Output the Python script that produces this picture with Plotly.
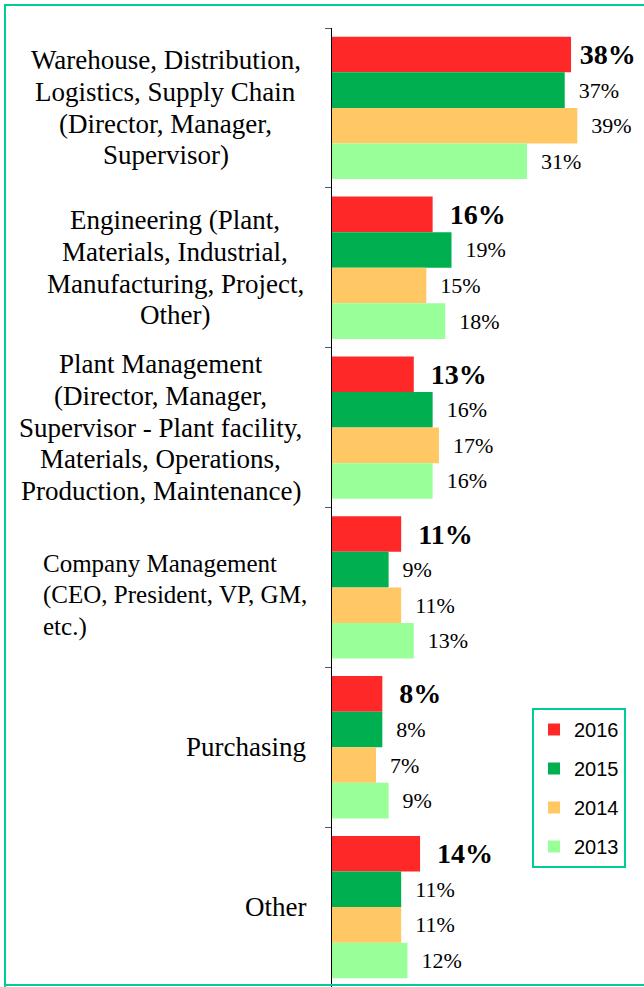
import plotly.graph_objects as go

cat_keys = ["Warehouse", "Engineering", "Plant", "Company", "Purchasing", "Other"]
category_lines = [
    ["Warehouse, Distribution,", "Logistics, Supply Chain", "(Director, Manager,", "Supervisor)"],
    ["Engineering (Plant,", "Materials, Industrial,", "Manufacturing, Project,", "Other)"],
    ["Plant Management", "(Director, Manager,", "Supervisor - Plant facility,", "Materials, Operations,", "Production, Maintenance)"],
    ["Company Management", "(CEO, President, VP, GM,", "etc.)"],
    ["Purchasing"],
    ["Other"],
]
# label block placement (pixels): anchor x and anchor side, vertical offset of block
label_anchor_x = [165.5, 175, 160.5, 41, 308, 308]
label_anchor = ["center", "center", "center", "left", "right", "right"]
label_block_shift = [0, 0, 0, -8, 0, 0]
label_font_size = [27, 27, 27, 25, 27, 27]
LINE_GAP = 31.7

years = ["2016", "2015", "2014", "2013"]
values_2016 = [38, 16, 13, 11, 8, 14]
values_2015 = [37, 19, 16, 9, 8, 11]
values_2014 = [39, 15, 17, 11, 7, 11]
values_2013 = [31, 18, 16, 13, 9, 12]
series = [values_2016, values_2015, values_2014, values_2013]
colors = ["#FF2828", "#00B050", "#FFC864", "#99FF99"]

SERIF = "Liberation Serif"
SANS = "Liberation Sans"
BORDER = "#00CC99"

PLOT_L, PLOT_W, PLOT_T, PLOT_H = 332, 312, 28, 959


def px_x(x):
    return (x - PLOT_L) / PLOT_W


def px_y(y):
    return 1 - (y - PLOT_T) / PLOT_H


fig = go.Figure()
for i, (yr, vals, col) in enumerate(zip(years, series, colors)):
    bold = i == 0
    if bold:
        tmpl = ["\u2009%{x}%" if v == max(vals) else "\u00a0\u00a0%{x}%" for v in vals]
    else:
        tmpl = "\u00a0\u00a0%{x}%"
    fig.add_trace(go.Bar(
        name=yr,
        y=cat_keys,
        x=vals,
        orientation="h",
        marker=dict(color=col, line=dict(width=0)),
        texttemplate=tmpl,
        textposition="outside",
        constraintext="none",
        cliponaxis=False,
        textfont=dict(family=SERIF, size=28 if bold else 22, color="black",
                      weight="bold" if bold else "normal"),
        legendgroup=yr,
        hoverinfo="skip",
    ))

annotations = []
for key, lines, ax, anc, bs, fs in zip(cat_keys, category_lines, label_anchor_x,
                                       label_anchor, label_block_shift, label_font_size):
    n = len(lines)
    for j, line in enumerate(lines):
        annotations.append(dict(
            xref="paper", yref="y", x=px_x(ax), y=key,
            xanchor=anc, yanchor="middle",
            yshift=((n - 1) / 2 - j) * LINE_GAP + bs,
            text=line, showarrow=False,
            font=dict(family=SERIF, size=fs, color="black"),
        ))

# top border drawn as an empty annotation box with a coloured background
annotations.append(dict(
    xref="paper", yref="paper", x=px_x(4), y=px_y(4),
    xanchor="left", yanchor="top", text=" ", showarrow=False,
    width=640, height=2, bgcolor=BORDER, borderpad=0, borderwidth=0,
    font=dict(size=1),
))

# border: filled strips (top, left, bottom), in pixel positions
border_strips = [
    (4, 4, 644, 6),      # top
    (4, 4, 6, 987),      # left
    (4, 984, 644, 986),  # bottom
]
shapes = [
    dict(type="rect", xref="paper", yref="paper",
         x0=px_x(a), y0=px_y(d), x1=px_x(c), y1=px_y(b),
         fillcolor=BORDER, line=dict(width=0), layer="above")
    for a, b, c, d in border_strips
]

fig.update_layout(
    width=644, height=987,
    margin=dict(l=PLOT_L, r=644 - PLOT_L - PLOT_W, t=PLOT_T, b=987 - PLOT_T - PLOT_H),
    paper_bgcolor="white", plot_bgcolor="white",
    barmode="group", bargap=0.11, bargroupgap=0,
    showlegend=True,
    legend=dict(
        x=px_x(532), y=px_y(708),
        xanchor="left", yanchor="top",
        bordercolor=BORDER, borderwidth=2, bgcolor="white",
        font=dict(family=SANS, size=20, color="black"),
        traceorder="grouped", tracegroupgap=10, itemwidth=30,
    ),
    xaxis=dict(range=[0, PLOT_W / 6.29], visible=False, fixedrange=True),
    yaxis=dict(
        autorange="reversed", showticklabels=False,
        showline=True, linecolor="black", linewidth=1,
        ticks="outside", ticklen=6, tickcolor="#555555", tickson="boundaries",
        showgrid=False, zeroline=False, fixedrange=True,
    ),
    annotations=annotations,
    shapes=shapes,
)

fig.write_html(
    "out.html",
    config={"displayModeBar": False},
    post_script=(
        "document.documentElement.style.margin='0';"
        "document.body.style.margin='0';document.body.style.padding='0';"
        "document.body.style.overflow='hidden';window.scrollTo(0,0);"
    ),
)
